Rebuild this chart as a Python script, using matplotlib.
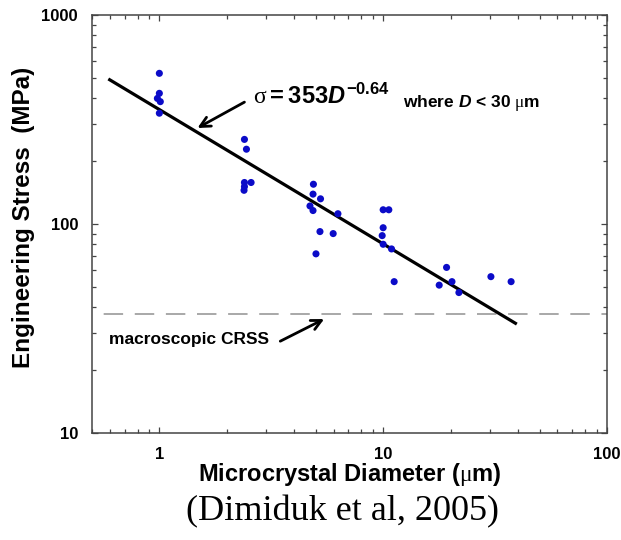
import matplotlib
matplotlib.use("Agg")
import matplotlib.pyplot as plt
import matplotlib.ticker as ticker

# data
diameter = [1.0, 1.0, 0.98, 1.01, 1.0,
            2.40, 2.45, 2.40, 2.57, 2.40, 2.39,
            4.88, 4.86, 5.25, 4.71, 4.86, 6.28, 5.22, 5.98, 5.01,
            10.0, 10.6, 10.0, 9.9, 10.0, 10.9, 11.2,
            19.2, 17.8, 20.3, 21.8, 30.3, 37.3]
stress = [526, 422, 399, 385, 339,
          254, 228, 158, 158, 151, 145,
          155, 139, 132, 122, 116, 112, 92, 90, 72,
          117, 117, 96, 88, 80, 76, 53,
          62, 51, 53, 47, 56, 53]

fit_d = [0.6, 39]
fit_stress = [490, 33.5]
crss = 37

plt.rcParams['font.family'] = ['Liberation Sans', 'DejaVu Sans']
plt.rcParams['mathtext.fontset'] = 'custom'
plt.rcParams['mathtext.rm'] = 'Liberation Sans:bold'
plt.rcParams['mathtext.it'] = 'Liberation Sans:bold:italic'
plt.rcParams['mathtext.bf'] = 'Liberation Sans:bold'
plt.rcParams['mathtext.sf'] = 'Liberation Serif'

fig = plt.figure(figsize=(6.21, 5.40), dpi=100)
ax = fig.add_axes([0.1481, 0.1981, 0.8293, 0.7741])

ax.set_xscale('log')
ax.set_yscale('log')
ax.set_xlim(0.5, 100)
ax.set_ylim(10, 1000)

ax.axhline(crss, color='#a8a8a8', lw=1.4, ls=(10, (10, 6)), zorder=1)
ax.plot(fit_d, fit_stress, color='black', lw=2.3, zorder=2)
ax.scatter(diameter, stress, s=26, color='#0b0bc8', edgecolors='none', zorder=3)

# axis styling
for sp in ax.spines.values():
    sp.set_color('#444444')
    sp.set_linewidth(1.1)
ax.tick_params(which='both', direction='in', top=True, right=True,
               color='#444444', width=0.9)
ax.tick_params(which='major', length=4.5, labelsize=12)
ax.tick_params(which='minor', length=3)
ax.tick_params(axis='y', pad=10)
ax.tick_params(axis='x', pad=10)
ax.xaxis.set_major_locator(ticker.LogLocator(base=10, numticks=10))
ax.xaxis.set_minor_locator(ticker.LogLocator(base=10, subs=range(2, 10), numticks=10))
ax.yaxis.set_minor_locator(ticker.LogLocator(base=10, subs=range(2, 10), numticks=10))
fmt = ticker.FuncFormatter(lambda v, _: f"{v:g}")
ax.xaxis.set_major_formatter(fmt)
ax.yaxis.set_major_formatter(fmt)
ax.xaxis.set_minor_formatter(ticker.NullFormatter())
ax.yaxis.set_minor_formatter(ticker.NullFormatter())
for lab in ax.get_xticklabels() + ax.get_yticklabels():
    lab.set_fontweight('bold')

ax.set_xlabel(r"Microcrystal Diameter ($\mathsf{\mu}$m)", fontsize=17, fontweight='bold')
ax.set_ylabel("Engineering Stress  (MPa)", fontsize=17.5, fontweight='bold')
ax.xaxis.set_label_coords(0.501, -0.068)
ax.yaxis.set_label_coords(-0.111, 0.516)

# annotations
ax.text(0.313, 0.788, r"$\mathsf{\sigma}\mathrm{=353}D^{\mathrm{-0.64}}$",
        transform=ax.transAxes, fontsize=17, va='baseline', ha='left')
ax.text(0.604, 0.781, r"where $D$ < 30 $\mathsf{\mu}$m", transform=ax.transAxes,
        fontsize=12.5, fontweight='bold', va='baseline', ha='left')
ax.annotate("", xy=(1.48, 288), xytext=(2.40, 383),
            arrowprops=dict(arrowstyle='->', color='black', lw=2,
                            mutation_scale=18, shrinkA=0, shrinkB=0))

ax.text(0.598, 27.9, "macroscopic CRSS", fontsize=12.5, fontweight='bold',
        va='center', ha='left')
ax.annotate("", xy=(5.45, 35.1), xytext=(3.47, 27.5),
            arrowprops=dict(arrowstyle='->', color='black', lw=2,
                            mutation_scale=18, shrinkA=0, shrinkB=0))

fig.text(0.5515, 0.052, "(Dimiduk et al, 2005)", family='Liberation Serif',
         fontsize=26, ha='center', va='center')

fig.savefig("out.png", dpi=100)
